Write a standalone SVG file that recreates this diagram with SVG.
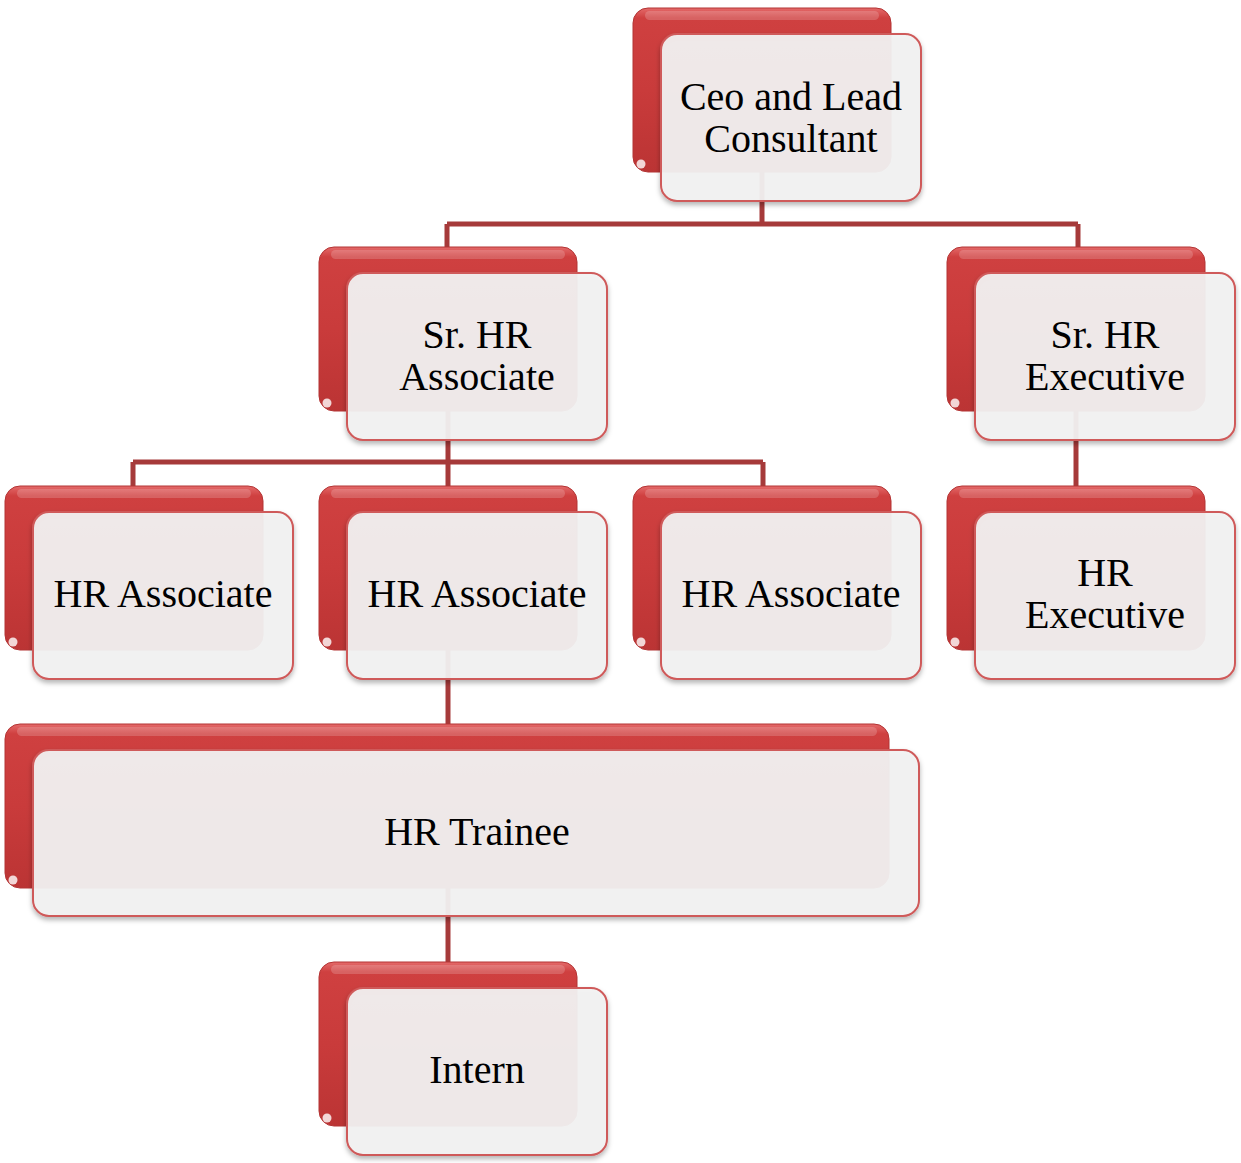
<svg xmlns="http://www.w3.org/2000/svg" width="1241" height="1163" viewBox="0 0 1241 1163">
<style>
.back{fill:url(#backGrad);stroke:#b33434;stroke-width:1}
.gloss{fill:#ffffff;opacity:0.18}
.spot{fill:#ffffff;opacity:0.8}
.front{fill:#f2f2f2;fill-opacity:0.936;stroke:#cf5a5a;stroke-width:2;filter:url(#shadow)}
.conn{fill:none;stroke:#a63a3a;stroke-width:5}
text{font-family:"Liberation Serif","Times New Roman",serif;font-size:40px;fill:#000;text-anchor:middle}
</style>
<defs>
<linearGradient id="backGrad" x1="0" y1="0" x2="0" y2="1">
<stop offset="0" stop-color="#e46a6a"/>
<stop offset="0.06" stop-color="#cf4040"/>
<stop offset="0.5" stop-color="#c93b3b"/>
<stop offset="1" stop-color="#bb3434"/>
</linearGradient>
<filter id="shadow" x="-5%" y="-5%" width="110%" height="115%">
<feDropShadow dx="0" dy="3" stdDeviation="2.5" flood-color="#000" flood-opacity="0.3"/>
</filter>
</defs>

<g id="connectors">
<path class="conn" d="M762,172 V224 M447,224 H1078 M447,224 V247 M1078,224 V247"/>
<path class="conn" d="M448,410 V462 M133,462 H763 M133,462 V486 M448,462 V486 M763,462 V486"/>
<path class="conn" d="M1076,410 V486"/>
<path class="conn" d="M448,650 V724"/>
<path class="conn" d="M448,888 V962"/>
</g>

<g id="ceo">
<rect class="back" x="633" y="8" width="258" height="164" rx="15"/>
<rect class="gloss" x="645" y="11" width="234" height="9" rx="4.5"/>
<circle class="spot" cx="641" cy="164" r="4.5"/>
<rect class="front" x="661" y="34" width="260" height="167" rx="16"/>
<text x="791" y="110">Ceo and Lead</text>
<text x="791" y="152">Consultant</text>
</g>

<g id="sr-hr-associate">
<rect class="back" x="319" y="247" width="258" height="164" rx="15"/>
<rect class="gloss" x="331" y="250" width="234" height="9" rx="4.5"/>
<circle class="spot" cx="327" cy="403" r="4.5"/>
<rect class="front" x="347" y="273" width="260" height="167" rx="16"/>
<text x="477" y="348">Sr. HR</text>
<text x="477" y="390">Associate</text>
</g>

<g id="sr-hr-executive">
<rect class="back" x="947" y="247" width="258" height="164" rx="15"/>
<rect class="gloss" x="959" y="250" width="234" height="9" rx="4.5"/>
<circle class="spot" cx="955" cy="403" r="4.5"/>
<rect class="front" x="975" y="273" width="260" height="167" rx="16"/>
<text x="1105" y="348">Sr. HR</text>
<text x="1105" y="390">Executive</text>
</g>

<g id="hr-associate-1">
<rect class="back" x="5" y="486" width="258" height="164" rx="15"/>
<rect class="gloss" x="17" y="489" width="234" height="9" rx="4.5"/>
<circle class="spot" cx="13" cy="642" r="4.5"/>
<rect class="front" x="33" y="512" width="260" height="167" rx="16"/>
<text x="163" y="607">HR Associate</text>
</g>

<g id="hr-associate-2">
<rect class="back" x="319" y="486" width="258" height="164" rx="15"/>
<rect class="gloss" x="331" y="489" width="234" height="9" rx="4.5"/>
<circle class="spot" cx="327" cy="642" r="4.5"/>
<rect class="front" x="347" y="512" width="260" height="167" rx="16"/>
<text x="477" y="607">HR Associate</text>
</g>

<g id="hr-associate-3">
<rect class="back" x="633" y="486" width="258" height="164" rx="15"/>
<rect class="gloss" x="645" y="489" width="234" height="9" rx="4.5"/>
<circle class="spot" cx="641" cy="642" r="4.5"/>
<rect class="front" x="661" y="512" width="260" height="167" rx="16"/>
<text x="791" y="607">HR Associate</text>
</g>

<g id="hr-executive">
<rect class="back" x="947" y="486" width="258" height="164" rx="15"/>
<rect class="gloss" x="959" y="489" width="234" height="9" rx="4.5"/>
<circle class="spot" cx="955" cy="642" r="4.5"/>
<rect class="front" x="975" y="512" width="260" height="167" rx="16"/>
<text x="1105" y="586">HR</text>
<text x="1105" y="628">Executive</text>
</g>

<g id="hr-trainee">
<rect class="back" x="5" y="724" width="884" height="164" rx="15"/>
<rect class="gloss" x="17" y="727" width="860" height="9" rx="4.5"/>
<circle class="spot" cx="13" cy="880" r="4.5"/>
<rect class="front" x="33" y="750" width="886" height="166" rx="16"/>
<text x="477" y="845">HR Trainee</text>
</g>

<g id="intern">
<rect class="back" x="319" y="962" width="258" height="164" rx="15"/>
<rect class="gloss" x="331" y="965" width="234" height="9" rx="4.5"/>
<circle class="spot" cx="327" cy="1118" r="4.5"/>
<rect class="front" x="347" y="988" width="260" height="167" rx="16"/>
<text x="477" y="1083">Intern</text>
</g>
</svg>
